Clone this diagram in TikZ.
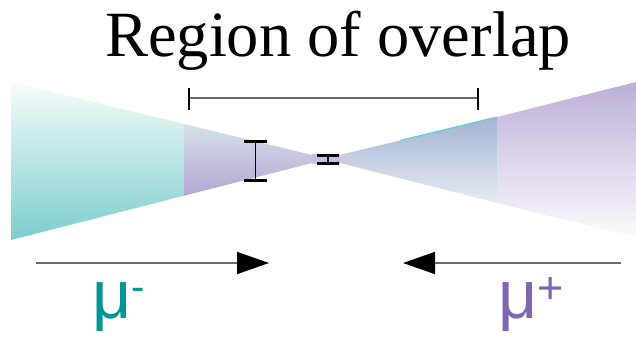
\documentclass[tikz,border=0pt]{standalone}
\usepackage{fontspec}
\setmainfont{Liberation Serif}
\newfontfamily\labelsans{Liberation Sans}
\usetikzlibrary{arrows.meta}
\definecolor{tealbeam}{RGB}{125,205,205}
\definecolor{tealtop}{RGB}{246,252,252}
\definecolor{purpbeam}{RGB}{190,175,215}
\definecolor{purpbot}{RGB}{252,250,254}
\definecolor{ovlLtop}{RGB}{212,226,234}
\definecolor{ovlLbot}{RGB}{180,166,210}
\definecolor{ovlRtop}{RGB}{163,179,210}
\definecolor{ovlRbot}{RGB}{230,236,243}
\definecolor{waistcol}{RGB}{202,190,226}
\definecolor{mutext}{RGB}{0,150,150}
\definecolor{ptext}{RGB}{128,102,178}
\definecolor{tealedge}{RGB}{110,205,200}
\definecolor{linegray}{RGB}{105,105,105}
\begin{document}
\begin{tikzpicture}[x=1pt,y=-1pt,
  beamarrow/.style={linegray, line width=1.6pt, -{Triangle[length=32pt,width=22pt,color=black]}},
  barline/.style={black, line width=1.4pt},
  barcap/.style={black, line width=3pt},
  mulabel/.style={anchor=base west, inner sep=0pt, font=\labelsans\fontsize{68}{68}\selectfont}]
\useasboundingbox (0,0) rectangle (636,338);
\fill[white] (0,0) rectangle (636,338);

% beams
\shade[top color=tealtop,bottom color=tealbeam] (11,82) -- (184,124) -- (184,195.7) -- (11,240) -- cycle;
\shade[top color=ovlLtop,bottom color=ovlLbot] (184,124) -- (312,155) -- (312,163) -- (184,195.7) -- cycle;
\fill[waistcol] (312,154) rectangle (340,164);
\shade[top color=ovlRtop,bottom color=ovlRbot] (340,155) -- (497,117) -- (497,203) -- (340,163) -- cycle;
\shade[top color=purpbeam,bottom color=purpbot] (497,117) -- (636,82) -- (636,237) -- (497,203) -- cycle;
\draw[tealedge, line width=1.2pt] (400,140.5) -- (497,117);

% title
\node[anchor=base, inner sep=0pt, font=\fontsize{64.5}{64.5}\selectfont] (title) at (338,56) {Region of overlap};

% region bracket
\coordinate (brL) at (189,98);
\coordinate (brR) at (478,98);
\draw[linegray, line width=1.5pt] (brL) -- (brR);
\draw[barcap, line width=2.5pt] ([yshift=-12pt]brL) -- ([yshift=10pt]brL);
\draw[barcap, line width=2.5pt] ([yshift=-12pt]brR) -- ([yshift=10pt]brR);

% error bars
\coordinate (e1t) at (255.5,141.5);
\coordinate (e1b) at (255.5,180);
\draw[barline] (e1t) -- (e1b);
\draw[barcap] ([xshift=-11.5pt]e1t) -- ([xshift=11.5pt]e1t);
\draw[barcap] ([xshift=-11.5pt]e1b) -- ([xshift=11.5pt]e1b);
\coordinate (e2t) at (328,155);
\coordinate (e2b) at (328,163);
\draw[barline] (e2t) -- (e2b);
\draw[barcap] ([xshift=-11pt]e2t) -- ([xshift=11pt]e2t);
\draw[barcap] ([xshift=-11pt]e2b) -- ([xshift=11pt]e2b);

% arrows
\coordinate (a1s) at (36,263);
\coordinate (a1e) at (269,263);
\draw[beamarrow] (a1s) -- (a1e);
\coordinate (a2s) at (621,263);
\coordinate (a2e) at (403,263);
\draw[beamarrow] (a2s) -- (a2e);

% labels
\node[mulabel, text=mutext] (mum) at (92,318) {μ\raisebox{18pt}{\fontsize{40}{40}\selectfont -}};
\node[mulabel, text=ptext] (mup) at (498,318) {μ\raisebox{15pt}{\fontsize{45}{45}\selectfont +}};
\end{tikzpicture}
\end{document}
